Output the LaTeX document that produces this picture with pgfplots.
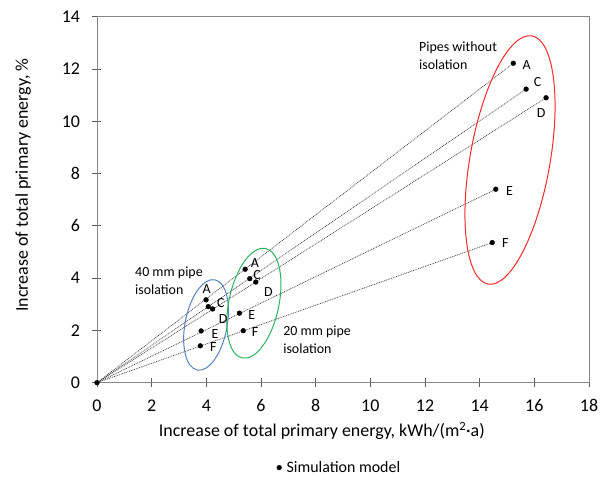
\documentclass[border=0pt]{standalone}
\usepackage{fontspec}
\setmainfont{Carlito}
\usepackage{pgfplots}
\pgfplotsset{compat=1.18}
\usetikzlibrary{shapes.geometric}

\definecolor{ringred}{RGB}{250,40,40}
\definecolor{ringblue}{RGB}{84,130,190}
\definecolor{ringgreen}{RGB}{40,180,90}
\definecolor{framegray}{RGB}{134,134,134}
\definecolor{guide}{RGB}{60,60,60}

\begin{document}
\begin{tikzpicture}
\begin{axis}[
    name=main,
    scale only axis,
    width=492bp, height=366bp,
    xmin=0, xmax=18, ymin=0, ymax=14,
    xtick={0,2,...,18}, ytick={0,2,...,14},
    xtick pos=bottom, ytick pos=left,
    tick align=center, major tick length=9bp,
    axis line style={framegray, line width=0.9pt},
    every tick/.style={framegray!70!black, line width=0.8pt},
    /pgf/number format/assume math mode=true,
    ticklabel style={font=\fontsize{18}{21}\selectfont},
    xticklabel style={yshift=-9bp},
    yticklabel style={xshift=-9bp},
    xlabel={Increase of total primary energy, kWh/(m\textsuperscript{2}·a)},
    ylabel={Increase of total primary energy, \%},
    label style={font=\fontsize{18}{21}\selectfont},
    xlabel style={at={(axis description cs:0.457,-0.132)}, anchor=center},
    ylabel style={at={(axis description cs:-0.150,0.54)}, anchor=center},
    legend style={draw=none, fill=none, at={(axis description cs:0.496,-0.232)},
        anchor=center, font=\fontsize{16}{19}\selectfont,
        nodes={inner xsep=5bp}},
    legend image code/.code={\draw[mark size=2.4bp] plot[mark=*] coordinates {(0.1cm,0cm)};},
    legend cell align={left},
    clip=false,
]
% guide lines from the origin through each case
\addplot[guide, dash pattern=on 0.9pt off 0.9pt, line width=0.7pt, forget plot] coordinates {(0,0) (15.23,12.22)};
\addplot[guide, dash pattern=on 0.9pt off 0.9pt, line width=0.7pt, forget plot] coordinates {(0,0) (15.70,11.23)};
\addplot[guide, dash pattern=on 0.9pt off 0.9pt, line width=0.7pt, forget plot] coordinates {(0,0) (16.43,10.90)};
\addplot[guide, dash pattern=on 0.9pt off 0.9pt, line width=0.7pt, forget plot] coordinates {(0,0) (14.59,7.40)};
\addplot[guide, dash pattern=on 0.9pt off 0.9pt, line width=0.7pt, forget plot] coordinates {(0,0) (14.46,5.36)};

% simulation results
\addplot[only marks, mark=*, mark size=2.4bp, black] table {
x y
0 0
15.23 12.22
15.70 11.23
16.43 10.90
14.59 7.40
14.46 5.36
3.99 3.17
4.07 2.91
4.23 2.82
3.81 1.98
3.78 1.41
5.42 4.34
5.59 3.98
5.81 3.85
5.21 2.66
5.35 1.99
};
\addlegendentry{Simulation model}

% group rings
\node[draw=ringred, ellipse, line width=1pt, inner sep=0pt, minimum width=80bp,
    minimum height=252bp, rotate=-10] at (axis cs:15.11,8.52) {};
\node[draw=ringblue, ellipse, line width=1pt, inner sep=0pt, minimum width=42bp,
    minimum height=92bp, rotate=-11] at (axis cs:3.99,2.21) {};
\node[draw=ringgreen, ellipse, line width=1pt, inner sep=0pt, minimum width=50bp,
    minimum height=112bp, rotate=-12] at (axis cs:5.74,3.04) {};

% case letters
\begin{scope}[every node/.style={font=\fontsize{14}{16}\selectfont, inner sep=0pt}]
\node at (axis cs:15.72,12.15) {A};
\node at (axis cs:16.12,11.51) {C};
\node at (axis cs:16.25,10.33) {D};
\node at (axis cs:15.09,7.35) {E};
\node at (axis cs:14.94,5.33) {F};
\node at (axis cs:4.01,3.58) {A};
\node at (axis cs:4.53,3.04) {C};
\node at (axis cs:4.62,2.43) {D};
\node at (axis cs:4.32,1.87) {E};
\node at (axis cs:4.26,1.36) {F};
\node at (axis cs:5.78,4.58) {A};
\node at (axis cs:5.86,4.10) {C};
\node at (axis cs:6.27,3.45) {D};
\node at (axis cs:5.66,2.59) {E};
\node at (axis cs:5.78,1.92) {F};
\node[anchor=west, align=left] at (axis cs:11.78,12.49) {Pipes without\\[2pt]isolation};
\node[anchor=west, align=left] at (axis cs:1.39,3.89) {40 mm pipe\\[2pt]isolation};
\node[anchor=west, align=left] at (axis cs:6.81,1.64) {20 mm pipe\\[2pt]isolation};
\end{scope}
\end{axis}
\pgfresetboundingbox
\path[use as bounding box] ([shift={(-97bp,-100.2bp)}]main.south west)
    rectangle ([shift={(14bp,16.7bp)}]main.north east);
\end{tikzpicture}
\end{document}
